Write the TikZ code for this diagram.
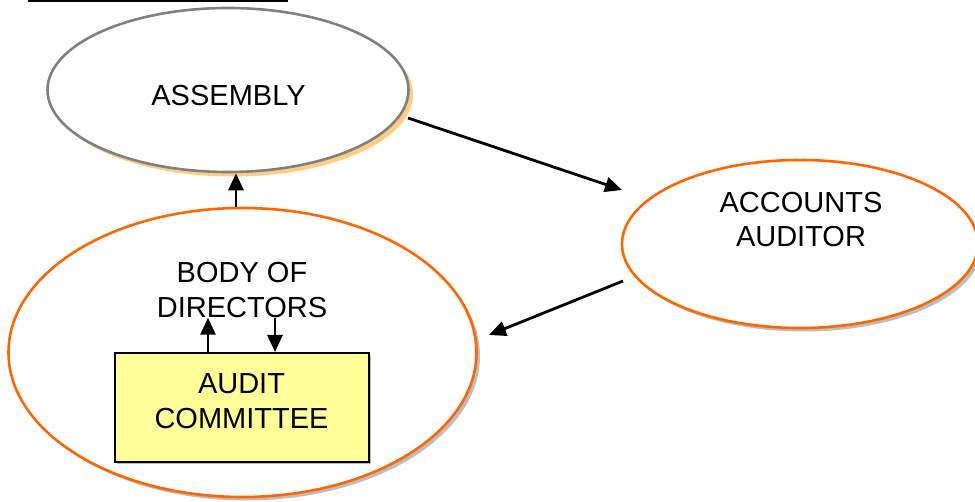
\documentclass[tikz,border=0pt]{standalone}
\usepackage{fontspec}
\setmainfont{Liberation Sans}
\usetikzlibrary{shapes.geometric,shadows,arrows.meta}
\definecolor{orng}{HTML}{FF6600}
\definecolor{grline}{HTML}{808080}
\definecolor{orshadow}{HTML}{FFCC80}
\definecolor{grshadow}{HTML}{BDBDBD}
\definecolor{boxfill}{HTML}{FFFF99}
\begin{document}
\begin{tikzpicture}[x=1pt,y=-1pt,
  lbl/.style={inner sep=0pt,align=center,font=\fontsize{29}{34.5}\selectfont},
  oval/.style={ellipse,inner sep=0pt,line width=2.6pt,fill=white},
  arr/.style={line width=2.8pt,-{Triangle[length=17pt,width=15pt]}},
]
\useasboundingbox (0,0) rectangle (975,502);
% top underline fragment
\draw[line width=2.5pt] (28,0.8) -- (288,0.8);
% ellipses
\node[oval,draw=grline,minimum width=361pt,minimum height=164pt,
  drop shadow={shadow xshift=4.5pt,shadow yshift=-4.5pt,fill=orshadow,opacity=1}] (assembly) at (228,90) {};
\node[oval,draw=orng,minimum width=468pt,minimum height=289pt,
  drop shadow={shadow xshift=3.5pt,shadow yshift=-3.5pt,fill=grshadow,opacity=1}] (body) at (242.5,352.5) {};
\node[oval,draw=orng,minimum width=356pt,minimum height=168pt,
  drop shadow={shadow xshift=3.5pt,shadow yshift=-3.5pt,fill=grshadow,opacity=1}] (accounts) at (800,244) {};
% box
\node[rectangle,draw=black,line width=2pt,fill=boxfill,minimum width=254pt,minimum height=109pt,inner sep=0pt,
  drop shadow={shadow xshift=2pt,shadow yshift=-2pt,fill=grshadow,opacity=1}] (acbox) at (242,407.5) {};
% texts
\node[lbl] (assemblytext) at (228.5,95.5) {ASSEMBLY};
\node[lbl] (accountstext) at (801,219.5) {ACCOUNTS\\AUDITOR};
\node[lbl] (bodytext) at (242,290) {BODY OF\\DIRECTORS};
\node[lbl] (boxtext) at (241.5,401) {AUDIT\\COMMITTEE};
% helper coordinates
\coordinate (xv) at (236,0);
\coordinate (xu) at (208,0);
\coordinate (xd) at (275,0);
\coordinate (a1) at (408,118);
\coordinate (a2) at (622,190);
\coordinate (b1) at (623,281);
\coordinate (b2) at (489,335);
% connectors
\draw[arr] (body.north -| xv) -- (assembly.south -| xv);
\draw[arr] (a1) -- (a2);
\draw[arr] (b1) -- (b2);
\draw[arr] (acbox.north -| xu) -- (bodytext.south -| xu);
\draw[arr] (bodytext.south -| xd) -- (acbox.north -| xd);
\end{tikzpicture}
\end{document}
